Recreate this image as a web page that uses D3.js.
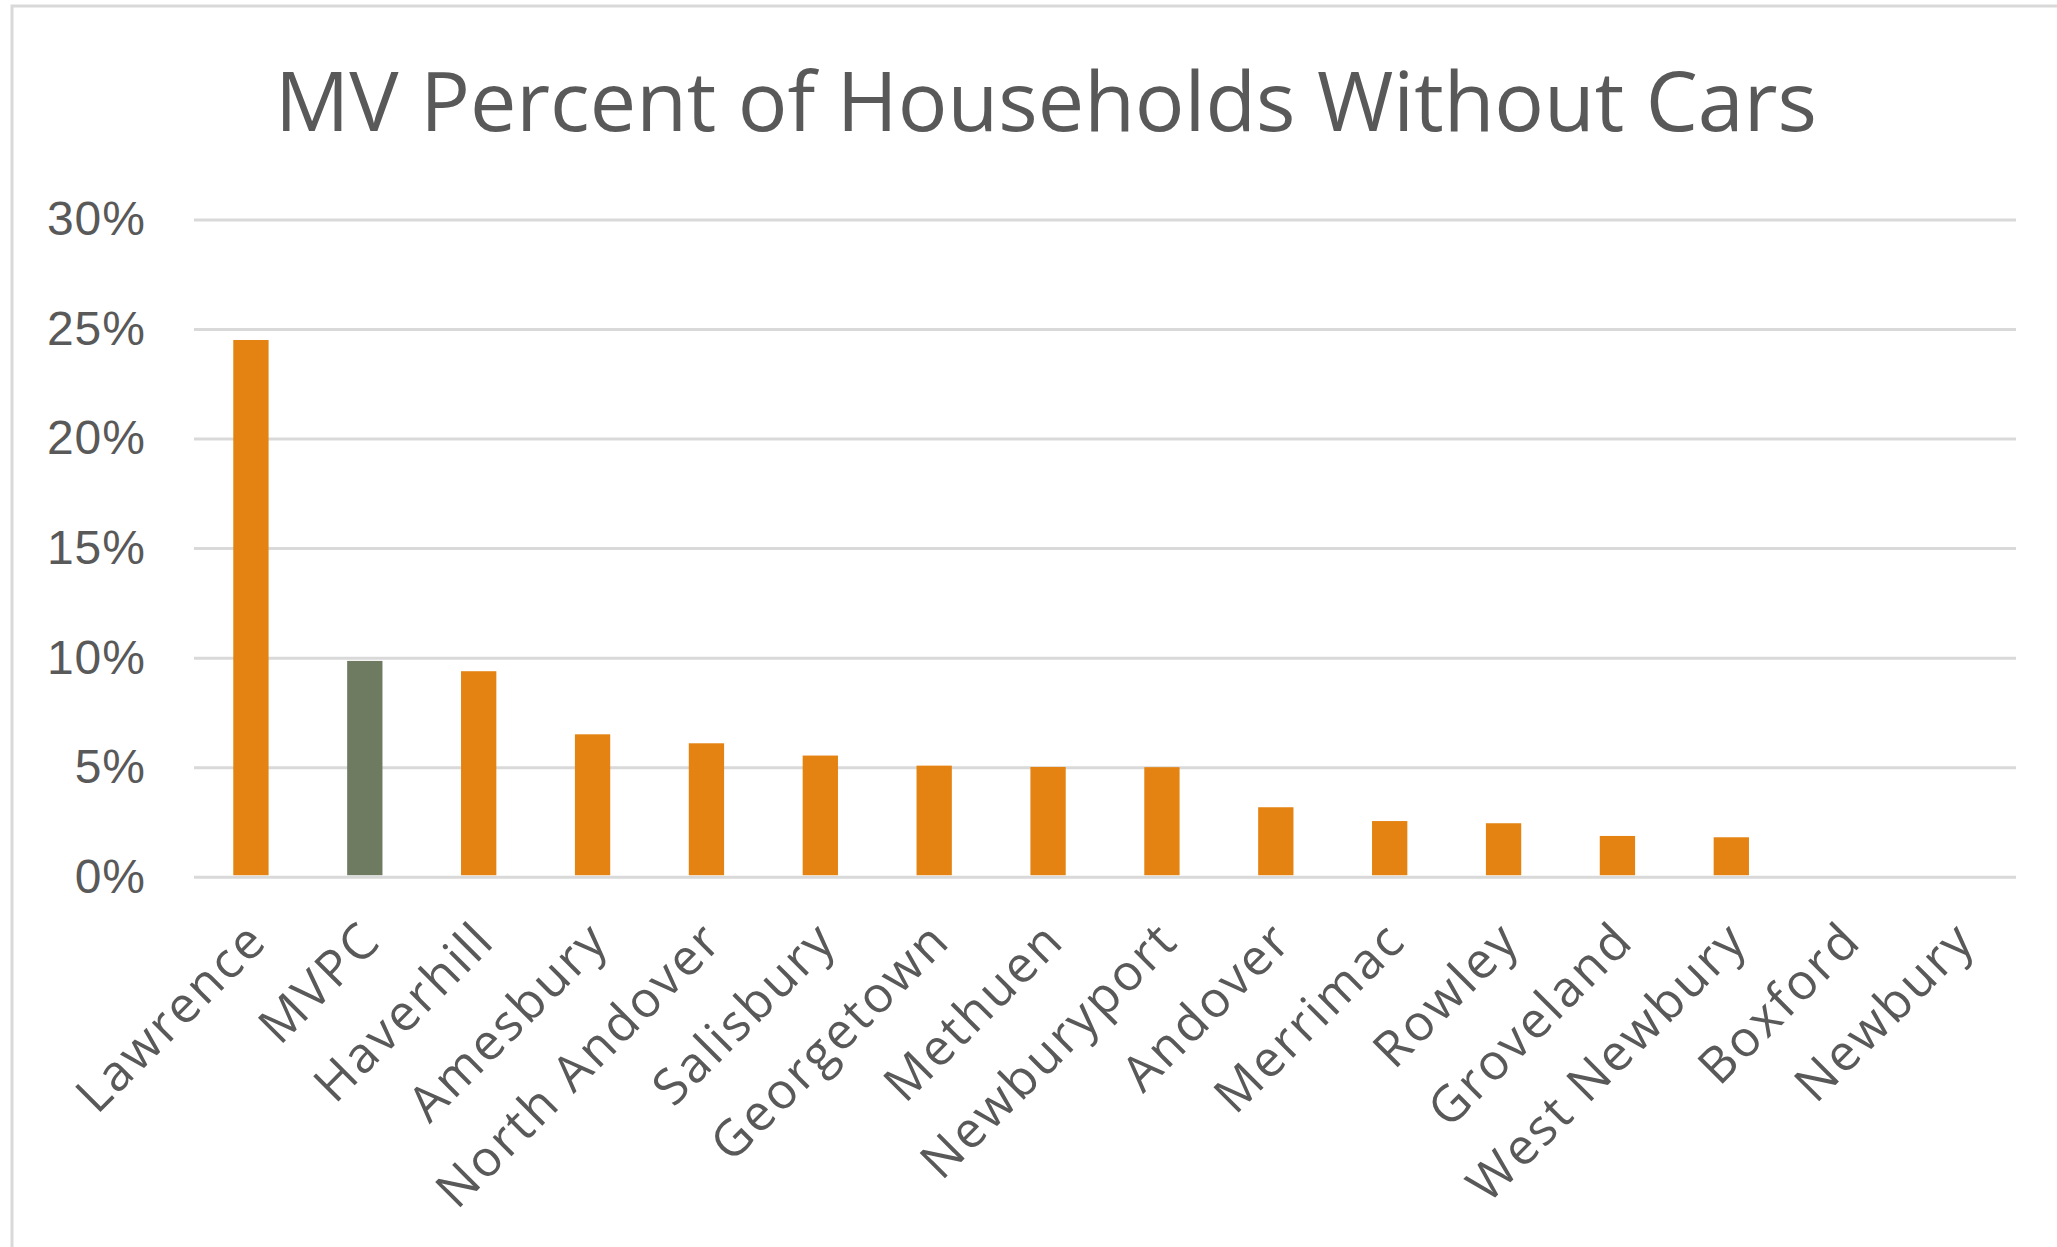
<!DOCTYPE html>
<html>
<head>
<meta charset="utf-8">
<script src="https://cdn.jsdelivr.net/npm/d3@7"></script>
<style>
    body { margin: 0; background: #fff; }
    svg { display: block; font-family: "Open Sans", sans-serif; }
</style>
</head>
<body>
<svg id="chart" width="2057" height="1247"></svg>
<script>
// chart data
var towns = ["Lawrence", "MVPC", "Haverhill", "Amesbury", "North Andover", "Salisbury",
    "Georgetown", "Methuen", "Newburyport", "Andover", "Merrimac", "Rowley",
    "Groveland", "West Newbury", "Boxford", "Newbury"];
var pct_no_car = [24.5, 9.85, 9.38, 6.5, 6.09, 5.53, 5.07, 5.01, 5.0, 3.17, 2.54, 2.44, 1.86, 1.8, 0, 0];
var y_ticks = [0, 5, 10, 15, 20, 25, 30];
var chart_title = "MV Percent of Households Without Cars";

var text_color = "#595959";
var grid_color = "#d9d9d9";

var svg = d3.select("#chart");

// outer chart border
svg.append("rect")
    .attr("x", 12).attr("y", 6)
    .attr("width", 2080).attr("height", 1280)
    .attr("fill", "none")
    .attr("stroke", grid_color)
    .attr("stroke-width", 3);

svg.append("text")
    .attr("x", 275).attr("y", 131)
    .attr("textLength", 1542)
    .attr("lengthAdjust", "spacingAndGlyphs")
    .attr("fill", text_color)
    .style("font-size", "82px")
    .text(chart_title);

var plot = { left: 194, right: 2016, top: 219.5, bottom: 876.7 };

var x = d3.scaleBand()
    .domain(towns)
    .range([plot.left, plot.right])
    .paddingInner(0.69)
    .paddingOuter(0.345);

var y = d3.scaleLinear()
    .domain([0, 30])
    .range([plot.bottom, plot.top]);

// gridlines + y labels
var y_axis = d3.axisLeft(y)
    .tickValues(y_ticks)
    .tickSize(-(plot.right - plot.left))
    .tickPadding(50)
    .tickFormat(function(d) { return d + "%"; });

var gy = svg.append("g")
    .attr("transform", "translate(" + plot.left + ",0)")
    .call(y_axis);

gy.select(".domain").remove();
gy.selectAll(".tick line")
    .attr("stroke", grid_color)
    .attr("stroke-width", 3);
gy.selectAll(".tick text")
    .attr("fill", text_color)
    .attr("x", -48)
    .style("font-size", "48px")
    .style("letter-spacing", "1px");

// bars
svg.append("g")
    .selectAll("rect")
    .data(towns)
    .enter().append("rect")
    .attr("x", function(d) { return x(d); })
    .attr("width", x.bandwidth())
    .attr("y", function(d, i) { return y(pct_no_car[i]); })
    .attr("height", function(d, i) { return plot.bottom - 1.5 - y(pct_no_car[i]); })
    .attr("fill", function(d) { return d === "MVPC" ? "#6f7b61" : "#e48312"; });

// rotated category labels
svg.append("g")
    .selectAll("text")
    .data(towns)
    .enter().append("text")
    .attr("transform", function(d) {
        var cx = x(d) + x.bandwidth() / 2;
        return "translate(" + (cx + 6) + "," + (plot.bottom + 54) + ") rotate(-45)";
    })
    .attr("text-anchor", "end")
    .attr("dy", "0.35em")
    .attr("fill", text_color)
    .style("font-size", "50px")
    .style("letter-spacing", "2.5px")
    .text(function(d) { return d; });
</script>
</body>
</html>
